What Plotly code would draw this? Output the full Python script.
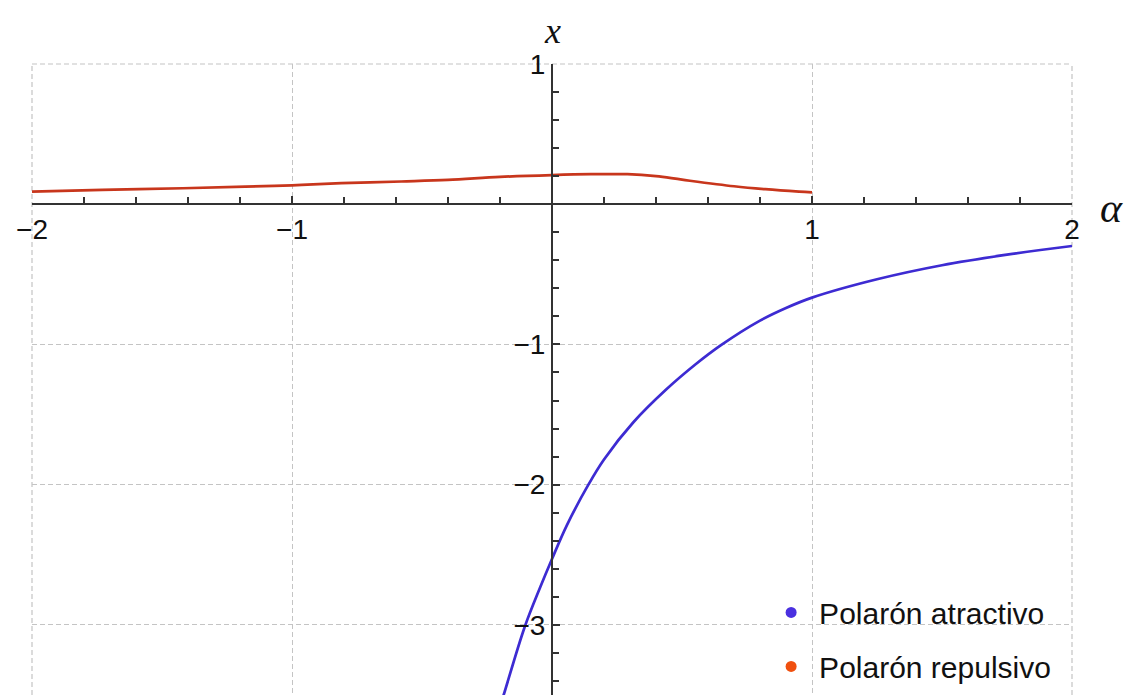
import plotly.graph_objects as go

# Data
alpha_rep = [-2.0, -1.73, -1.42, -1.18, -1.0, -0.81, -0.58, -0.40, -0.20, 0.0, 0.15, 0.29, 0.40, 0.50, 0.70, 0.82, 0.95, 1.0]
x_rep = [0.090, 0.102, 0.114, 0.126, 0.135, 0.150, 0.162, 0.173, 0.195, 0.208, 0.214, 0.214, 0.200, 0.175, 0.128, 0.107, 0.090, 0.085]

alpha_att = [-0.20, -0.186, -0.106, -0.045, 0.0, 0.057, 0.14, 0.20, 0.313, 0.44, 0.55, 0.65, 0.80, 0.90, 1.0, 1.25, 1.5, 1.75, 2.0]
x_att = [-3.58, -3.50, -3.02, -2.73, -2.53, -2.29, -2.00, -1.82, -1.555, -1.32, -1.145, -1.005, -0.83, -0.74, -0.666,
         -0.535, -0.435, -0.36, -0.298]

series_names = ["Polarón atractivo", "Polarón repulsivo"]
line_colors = ["#3d2bd2", "#c8361c"]
dot_colors = ["#4a30e0", "#f0500f"]

x_ticks = [-2, -1, 1, 2]
y_ticks = [1, -1, -2, -3]

fig = go.Figure()
fig.add_trace(go.Scatter(x=alpha_att, y=x_att, mode="lines", line=dict(color=line_colors[0], width=2.7, shape="spline"),
                         showlegend=False, hoverinfo="skip"))
fig.add_trace(go.Scatter(x=alpha_rep, y=x_rep, mode="lines", line=dict(color=line_colors[1], width=2.7, shape="spline"),
                         showlegend=False, hoverinfo="skip"))
for i, name in enumerate(series_names):
    fig.add_trace(go.Scatter(x=[None], y=[None], mode="markers", name=name, legendgroup=name,
                             marker=dict(color=dot_colors[i], size=11)))

tickfont = dict(family="Liberation Sans, Arial, sans-serif", size=28, color="#111")
grid_color = "#c4c4c4"
grid_dash = "5px,3px"

fig.update_layout(
    width=1132, height=695,
    margin=dict(l=20, r=68, t=56, b=8),
    paper_bgcolor="white", plot_bgcolor="white",
    xaxis=dict(range=[-2, 2], anchor="free", position=3.5 / 4.5, side="bottom",
               showline=True, linecolor="#333", linewidth=2,
               tickmode="array", tickvals=x_ticks, ticktext=["−2", "−1", "1", "2"],
               ticks="inside", ticklen=7, tickwidth=2, tickcolor="#333",
               tickfont=tickfont, showgrid=True, gridcolor=grid_color, gridwidth=1.2, griddash=grid_dash,
               zeroline=False,
               minor=dict(tickmode="linear", tick0=0, dtick=0.2, ticks="inside", ticklen=6, tickwidth=1.5,
                          tickcolor="#333", showgrid=False)),
    yaxis=dict(range=[-3.5, 1], anchor="free", position=0.5, side="left",
               showline=True, linecolor="#333", linewidth=2,
               tickmode="array", tickvals=y_ticks, ticktext=["1", "−1", "−2", "−3"],
               ticks="inside", ticklen=7, tickwidth=2, tickcolor="#333",
               tickfont=tickfont, showgrid=True, gridcolor=grid_color, gridwidth=1.2, griddash=grid_dash,
               zeroline=False,
               minor=dict(tickmode="linear", tick0=0, dtick=0.2, ticks="inside", ticklen=6, tickwidth=1.5,
                          tickcolor="#333", showgrid=False)),
    legend=dict(x=0.703, y=0.172, xanchor="left", yanchor="top", bgcolor="rgba(0,0,0,0)",
                font=dict(family="Liberation Sans, Arial, sans-serif", size=30, color="#111"),
                tracegroupgap=12, itemwidth=46),
    annotations=[
        dict(text="<i>x</i>", x=0, xref="x", y=1, yref="paper", yanchor="top", yshift=55, showarrow=False,
             font=dict(family="Liberation Serif, Times New Roman, serif", size=36, color="#111")),
        dict(text="<i>α</i>", x=1, xref="paper", y=0, yref="y", xanchor="left", xshift=26, yshift=-4,
             showarrow=False,
             font=dict(family="Liberation Serif, Times New Roman, serif", size=42, color="#111")),
    ],
    shapes=[
        dict(type="line", xref="x domain", yref="y domain", x0=0, x1=0, y0=0, y1=1,
             line=dict(color=grid_color, width=1.2, dash=grid_dash), layer="below"),
        dict(type="line", xref="x domain", yref="y domain", x0=1, x1=1, y0=0, y1=1,
             line=dict(color=grid_color, width=1.2, dash=grid_dash), layer="below"),
        dict(type="line", xref="x domain", yref="y domain", x0=0, x1=1, y0=1, y1=1,
             line=dict(color=grid_color, width=1.2, dash=grid_dash), layer="below"),
    ],
)

fig.write_html("out.html")
